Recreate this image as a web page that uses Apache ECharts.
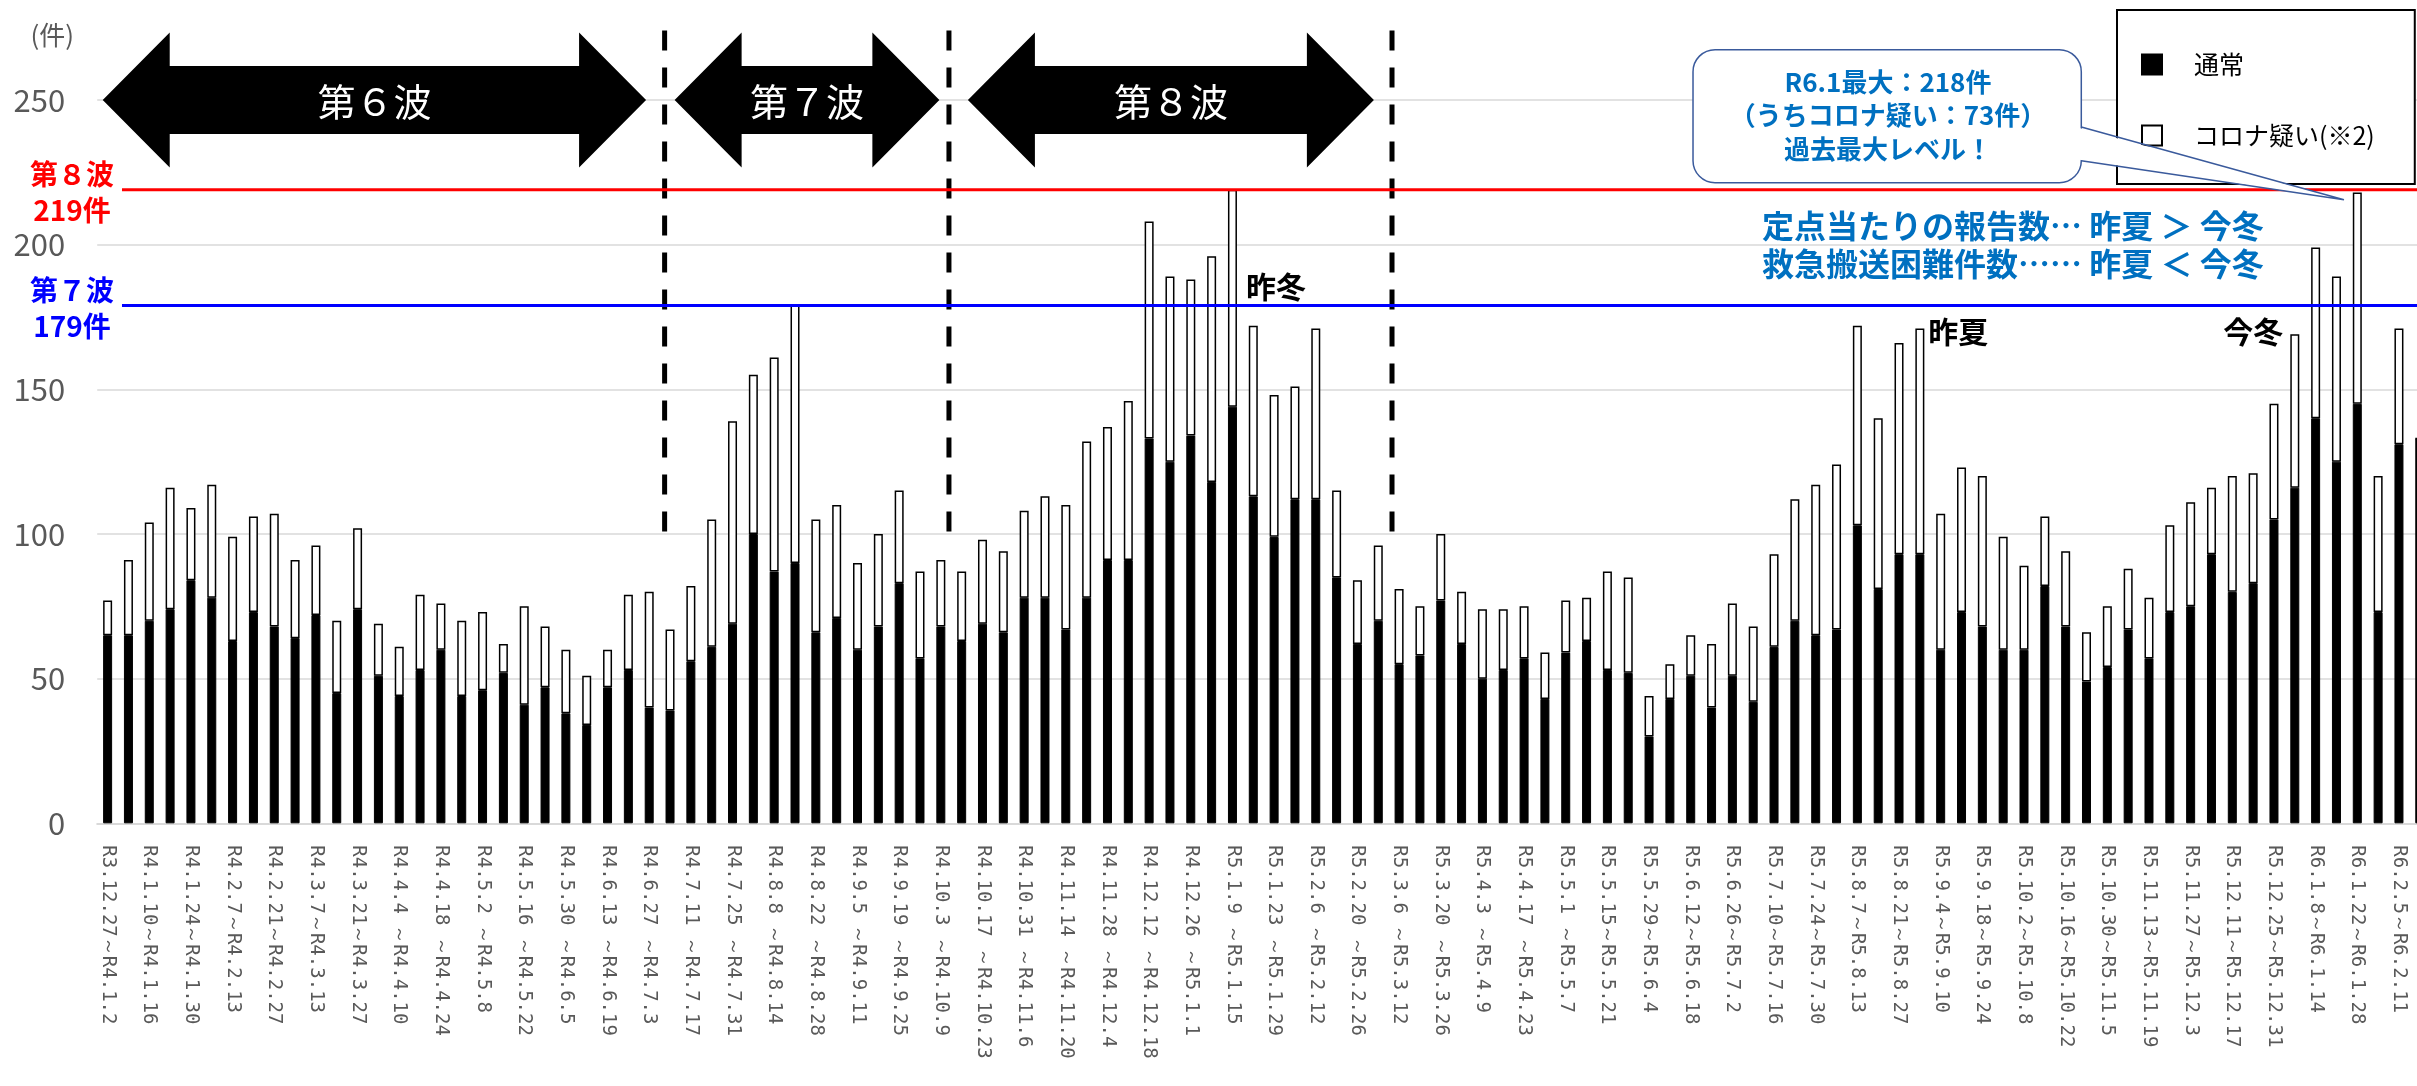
<!DOCTYPE html>
<html>
<head>
<meta charset="utf-8">
<script src="https://cdn.jsdelivr.net/npm/echarts@6/dist/echarts.min.js"></script>
<style>
  html, body { margin: 0; padding: 0; background: #fff; }
  #chart { width: 2417px; height: 1086px; }
</style>
</head>
<body>
<div id="chart"></div>
<script>
// Week labels shown under every second bar
const tickLabels = [
  'R3.12.27～R4.1.2', 'R4.1.10～R4.1.16', 'R4.1.24～R4.1.30', 'R4.2.7～R4.2.13',
  'R4.2.21～R4.2.27', 'R4.3.7～R4.3.13', 'R4.3.21～R4.3.27', 'R4.4.4 ～R4.4.10',
  'R4.4.18 ～R4.4.24', 'R4.5.2 ～R4.5.8', 'R4.5.16 ～R4.5.22', 'R4.5.30 ～R4.6.5',
  'R4.6.13 ～R4.6.19', 'R4.6.27 ～R4.7.3', 'R4.7.11 ～R4.7.17', 'R4.7.25 ～R4.7.31',
  'R4.8.8 ～R4.8.14', 'R4.8.22 ～R4.8.28', 'R4.9.5 ～R4.9.11', 'R4.9.19 ～R4.9.25',
  'R4.10.3 ～R4.10.9', 'R4.10.17 ～R4.10.23', 'R4.10.31 ～R4.11.6', 'R4.11.14 ～R4.11.20',
  'R4.11.28 ～R4.12.4', 'R4.12.12 ～R4.12.18', 'R4.12.26 ～R5.1.1', 'R5.1.9 ～R5.1.15',
  'R5.1.23 ～R5.1.29', 'R5.2.6 ～R5.2.12', 'R5.2.20 ～R5.2.26', 'R5.3.6 ～R5.3.12',
  'R5.3.20 ～R5.3.26', 'R5.4.3 ～R5.4.9', 'R5.4.17 ～R5.4.23', 'R5.5.1 ～R5.5.7',
  'R5.5.15～R5.5.21', 'R5.5.29～R5.6.4', 'R5.6.12～R5.6.18', 'R5.6.26～R5.7.2',
  'R5.7.10～R5.7.16', 'R5.7.24～R5.7.30', 'R5.8.7～R5.8.13', 'R5.8.21～R5.8.27',
  'R5.9.4～R5.9.10', 'R5.9.18～R5.9.24', 'R5.10.2～R5.10.8', 'R5.10.16～R5.10.22',
  'R5.10.30～R5.11.5', 'R5.11.13～R5.11.19', 'R5.11.27～R5.12.3', 'R5.12.11～R5.12.17',
  'R5.12.25～R5.12.31', 'R6.1.8～R6.1.14', 'R6.1.22～R6.1.28', 'R6.2.5～R6.2.11'
];

// Weekly counts: regular cases (black)
const normalCounts = [
  65, 65, 70, 74, 84, 78, 63, 73, 68, 64, 72, 45, 74, 51, 44, 53,
  60, 44, 46, 52, 41, 47, 38, 34, 47, 53, 40, 39, 56, 61, 69, 100,
  87, 90, 66, 71, 60, 68, 83, 57, 68, 63, 69, 66, 78, 78, 67, 78,
  91, 91, 133, 125, 134, 118, 144, 113, 99, 112, 112, 85, 62, 70, 55, 58,
  77, 62, 50, 53, 57, 43, 59, 63, 53, 52, 30, 43, 51, 40, 51, 42,
  61, 70, 65, 67, 103, 81, 93, 93, 60, 73, 68, 60, 60, 82, 68, 49,
  54, 67, 57, 73, 75, 93, 80, 83, 105, 116, 140, 125, 145, 73, 131, 133
];

// Weekly counts: suspected COVID cases (white, stacked on top)
const coronaSuspected = [
  12, 26, 34, 42, 25, 39, 36, 33, 39, 27, 24, 25, 28, 18, 17, 26,
  16, 26, 27, 10, 34, 21, 22, 17, 13, 26, 40, 28, 26, 44, 70, 55,
  74, 89, 39, 39, 30, 32, 32, 30, 23, 24, 29, 28, 30, 35, 43, 54,
  46, 55, 75, 64, 54, 78, 75, 59, 49, 39, 59, 30, 22, 26, 26, 17,
  23, 18, 24, 21, 18, 16, 18, 15, 34, 33, 14, 12, 14, 22, 25, 26,
  32, 42, 52, 57, 69, 59, 73, 78, 47, 50, 52, 39, 29, 24, 26, 17,
  21, 21, 21, 30, 36, 23, 40, 38, 40, 53, 59, 64, 73, 47, 40, 0
];

// Reference levels of the 7th and 8th waves
const wavePeaks = [
  { text: '第８波\n219件', value: 219, color: '#FF0000' },
  { text: '第７波\n179件', value: 179, color: '#0000FF' }
];

// One category per week; only every second week carries a label
const categories = [];
tickLabels.forEach(function (t) { categories.push(t, ''); });

const JP = '"Noto Sans CJK JP", "Noto Sans", sans-serif';

const chart = echarts.init(document.getElementById('chart'), null, { renderer: 'canvas' });

// The plot runs slightly past the right edge of the page, so its width is set explicitly
// and the grid is not squeezed back inside the container.
chart.setOption({
  animation: false,
  backgroundColor: '#fff',
  grid: { left: 97.2, top: 100, width: 2333, height: 723.3, containLabel: false, outerBoundsMode: 'none' },
  legend: {
    left: 2117, top: 10, orient: 'vertical',
    backgroundColor: '#fff', borderColor: '#000', borderWidth: 2,
    padding: [42, 40, 36, 24],
    itemWidth: 20, itemHeight: 20, itemGap: 46,
    selectedMode: false,
    textStyle: { fontSize: 25, color: '#000', fontFamily: JP, padding: [0, 0, 0, 27], lineHeight: 20 },
    data: [
      { name: '通常', icon: 'rect' },
      { name: 'コロナ疑い(※2)', icon: 'rect', itemStyle: { color: '#fff', borderColor: '#000', borderWidth: 2 } }
    ]
  },
  xAxis: {
    type: 'category',
    data: categories,
    boundaryGap: true,
    axisLine: { lineStyle: { color: '#D9D9D9', width: 2 } },
    axisTick: { show: false },
    axisLabel: {
      interval: 0, rotate: -90, margin: 22,
      fontFamily: '"DejaVu Sans Mono", monospace', fontSize: 19, color: '#595959'
    },
    splitLine: { show: false }
  },
  yAxis: {
    type: 'value', min: 0, max: 250, interval: 50,
    name: '(件)', nameLocation: 'end', nameGap: 52,
    nameTextStyle: { fontSize: 26, color: '#595959', fontFamily: JP, align: 'center', padding: [0, 90, 0, 0] },
    axisLine: { show: false },
    axisTick: { show: false },
    axisLabel: { fontSize: 31, color: '#595959', fontFamily: JP, margin: 32 },
    splitLine: { lineStyle: { color: '#D9D9D9', width: 1.5 } }
  },
  series: [
    {
      name: '通常', type: 'bar', stack: 'total', data: normalCounts, barWidth: 9,
      itemStyle: { color: '#000', borderColor: '#000', borderWidth: 1 }
    },
    {
      name: 'コロナ疑い(※2)', type: 'bar', stack: 'total', data: coronaSuspected, barWidth: 9,
      itemStyle: { color: '#fff', borderColor: '#000', borderWidth: 1.5 }
    }
  ]
});

// Helpers mapping week index (fractional allowed) and count value to pixels
const xA = chart.convertToPixel({ xAxisIndex: 0 }, 0);
const xB = chart.convertToPixel({ xAxisIndex: 0 }, 1);
const y0 = chart.convertToPixel({ yAxisIndex: 0 }, 0);
const yTop = chart.convertToPixel({ yAxisIndex: 0 }, 250);
function px(f) { return xA + f * (xB - xA); }
function py(v) { return y0 + v * (yTop - y0) / 250; }

const W = chart.getWidth();
const graphics = [];

// Double-headed arrows marking each wave period
const waves = [
  { from: -0.235, to: 25.85, text: '第６波' },
  { from: 27.22, to: 39.93, text: '第７波' },
  { from: 41.3, to: 60.79, text: '第８波' }
];
waves.forEach(function (w) {
  const l = px(w.from), r = px(w.to), cy = py(250);
  const head = 67, hh = 67.5, sh = 34;
  graphics.push({
    type: 'polygon', z: 8,
    shape: { points: [
      [l, cy], [l + head, cy - hh], [l + head, cy - sh], [r - head, cy - sh], [r - head, cy - hh],
      [r, cy], [r - head, cy + hh], [r - head, cy + sh], [l + head, cy + sh], [l + head, cy + hh]
    ] },
    style: { fill: '#000' }
  });
  graphics.push({
    type: 'text', z: 9,
    style: { text: w.text, x: (l + r) / 2, y: cy + 2, align: 'center', verticalAlign: 'middle',
      fill: '#fff', fontSize: 38, fontFamily: JP }
  });
});

// Dashed boundaries between waves
[26.74, 40.39, 61.66].forEach(function (f) {
  graphics.push({
    type: 'line', z: 10,
    shape: { x1: px(f), y1: py(274), x2: px(f), y2: py(100.8) },
    style: { stroke: '#000', lineWidth: 5, lineDash: [20, 17] }
  });
});

// Wave peak reference lines with their labels
wavePeaks.forEach(function (p) {
  graphics.push({
    type: 'line', z: 10,
    shape: { x1: px(0.69), y1: py(p.value), x2: W + 20, y2: py(p.value) },
    style: { stroke: p.color, lineWidth: 3 }
  });
  graphics.push({
    type: 'text', z: 10,
    style: { text: p.text, x: px(-1.71), y: py(p.value) + 3, align: 'center', verticalAlign: 'middle',
      fill: p.color, fontSize: 28, fontWeight: 'bold', fontFamily: JP, lineHeight: 36 }
  });
});

// Season tags
[
  { text: '昨冬', f: 56.09, v: 185.4 },
  { text: '昨夏', f: 88.84, v: 169.9 },
  { text: '今冬', f: 103.0, v: 169.9 }
].forEach(function (t) {
  graphics.push({
    type: 'text', z: 10,
    style: { text: t.text, x: px(t.f), y: py(t.v), align: 'center', verticalAlign: 'middle',
      fill: '#000', fontSize: 30, fontWeight: 'bold', fontFamily: JP }
  });
});

// Comparison note
graphics.push({
  type: 'text', z: 10,
  style: {
    text: '定点当たりの報告数… 昨夏 ＞ 今冬\n救急搬送困難件数…… 昨夏 ＜ 今冬',
    x: px(91.47), y: py(199.8), align: 'center', verticalAlign: 'middle',
    fill: '#0070C0', fontSize: 32, fontWeight: 'bold', fontFamily: JP, lineHeight: 38
  }
});

// Callout pointing at the January peak
const bx1 = px(76.11), bx2 = px(94.75), by1 = py(267.4), by2 = py(221.4);
const tipX = px(107.36), tipY = py(215.5);
const tA = py(240.7), tB = py(229.0);
graphics.push({
  type: 'rect', z: 12,
  shape: { x: bx1, y: by1, width: bx2 - bx1, height: by2 - by1, r: 22 },
  style: { fill: '#fff', stroke: '#3A5A9C', lineWidth: 1.5 }
});
graphics.push({
  type: 'polygon', z: 13,
  shape: { points: [[bx2 - 2, tA + 1], [tipX, tipY], [bx2 - 2, tB - 1]] },
  style: { fill: '#fff' }
});
graphics.push({
  type: 'polyline', z: 13,
  shape: { points: [[bx2, tA], [tipX, tipY], [bx2, tB]] },
  style: { stroke: '#3A5A9C', lineWidth: 1.5, fill: null }
});
graphics.push({
  type: 'text', z: 14,
  style: {
    text: 'R6.1最大：218件\n（うちコロナ疑い：73件）\n過去最大レベル！',
    x: px(85.47), y: py(244.7), align: 'center', verticalAlign: 'middle',
    fill: '#0070C0', fontSize: 26, fontWeight: 'bold', fontFamily: JP, lineHeight: 33.5
  }
});

chart.setOption({ graphic: { elements: graphics } });
</script>
</body>
</html>
